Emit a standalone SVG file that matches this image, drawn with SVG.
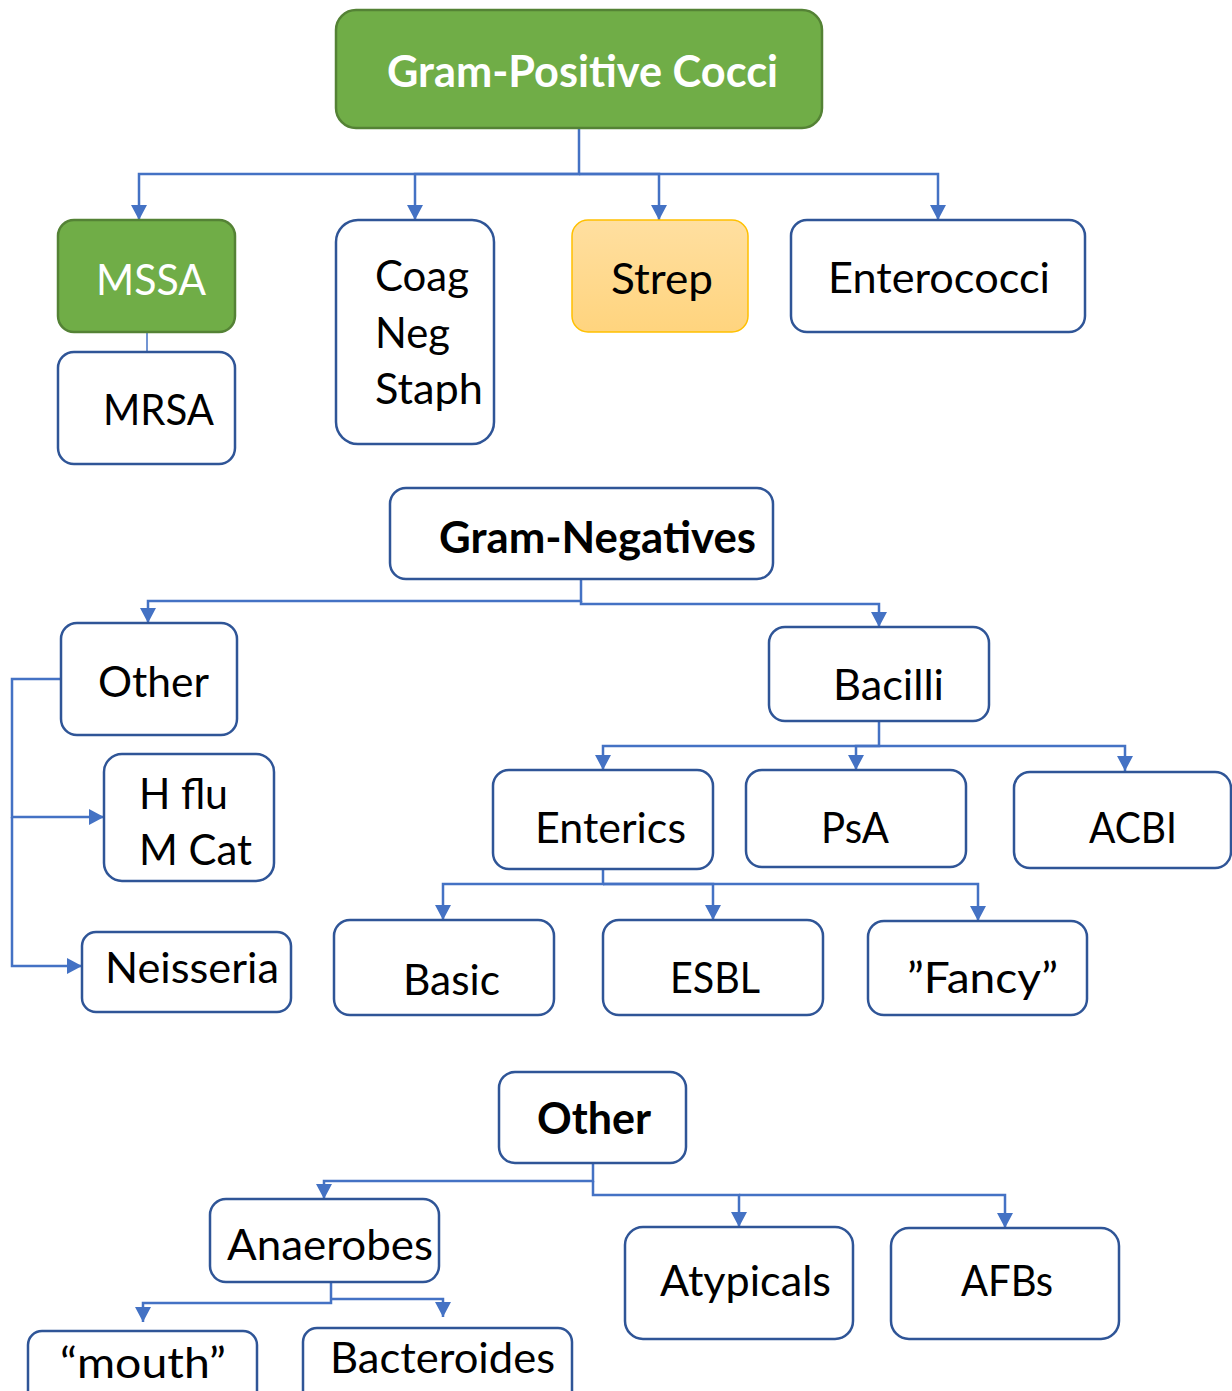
<svg xmlns="http://www.w3.org/2000/svg" width="1232" height="1391" viewBox="0 0 1232 1391">
  <defs>
    <linearGradient id="strepFill" x1="0" y1="0" x2="0" y2="1">
      <stop offset="0" stop-color="#FFDFA0"/>
      <stop offset="1" stop-color="#FFD47E"/>
    </linearGradient>
    <marker id="arrow" viewBox="0 0 15 16" refX="15" refY="8" markerWidth="15" markerHeight="16" markerUnits="userSpaceOnUse" orient="auto">
      <path d="M0,0 L15,8 L0,16 z" fill="#4472C4"/>
    </marker>
    <style>
      .box { fill: #FFFFFF; stroke: #2F5597; stroke-width: 2.5; }
      .green { fill: #70AD47; stroke: #548235; stroke-width: 2.5; }
      .strep { fill: url(#strepFill); stroke: #FFC000; stroke-width: 1.5; }
      .lbl { font-family: Lato, "Liberation Sans", sans-serif; font-size: 43px; fill: #000000; }
      .bold { font-weight: bold; }
      .white { fill: #FFFFFF; }
      .link { fill: none; stroke: #4472C4; stroke-width: 2.5; }
      .link-arrow { marker-end: url(#arrow); }
    </style>
  </defs>

  <!-- connectors -->
  <g id="connectors">
    <!-- Gram-positive cocci branches -->
    <path class="link link-arrow" d="M579,128 V174 H139 V220"/>
    <path class="link link-arrow" d="M579,174 H415 V220"/>
    <path class="link link-arrow" d="M579,174 H659 V220"/>
    <path class="link link-arrow" d="M579,174 H938 V220"/>
    <path class="link" style="stroke-width:1.5" d="M147,332 V352"/>
    <!-- Gram-negative branches -->
    <path class="link link-arrow" d="M581,579 V601 H148 V623"/>
    <path class="link link-arrow" d="M581,601 V604 H879 V627"/>
    <path class="link link-arrow" d="M61,679 H12 V817 H104"/>
    <path class="link link-arrow" d="M12,817 V966 H82"/>
    <path class="link link-arrow" d="M879,721 V746 H603 V770"/>
    <path class="link link-arrow" d="M879,746 H856 V770"/>
    <path class="link link-arrow" d="M879,746 H1125 V771"/>
    <path class="link link-arrow" d="M603,850 V884 H443 V920"/>
    <path class="link link-arrow" d="M603,884 H713 V920"/>
    <path class="link link-arrow" d="M603,884 H978 V921"/>
    <!-- Other organisms -->
    <path class="link link-arrow" d="M593,1163 V1181 H324 V1199"/>
    <path class="link link-arrow" d="M593,1181 V1195 H739 V1227"/>
    <path class="link link-arrow" d="M739,1195 H1005 V1228"/>
    <path class="link link-arrow" d="M331,1282 V1303 H143 V1322"/>
    <path class="link link-arrow" d="M331,1299 H443 V1317"/>
  </g>

  <!-- Gram-positive cocci -->
  <g id="gram-positive-cocci">
    <rect class="green" x="336" y="10" width="486" height="118" rx="20"/>
    <text class="lbl bold white" x="387" y="87" textLength="391" lengthAdjust="spacingAndGlyphs">Gram-Positive Cocci</text>
  </g>
  <g id="mssa">
    <rect class="green" x="58" y="220" width="177" height="112" rx="16"/>
    <text class="lbl white" x="96" y="295" textLength="110" lengthAdjust="spacingAndGlyphs">MSSA</text>
  </g>
  <g id="mrsa">
    <rect class="box" x="58" y="352" width="177" height="112" rx="16"/>
    <text class="lbl" x="103" y="425" textLength="111" lengthAdjust="spacingAndGlyphs">MRSA</text>
  </g>
  <g id="coag-neg-staph">
    <rect class="box" x="336" y="220" width="158" height="224" rx="22"/>
    <text class="lbl" x="375" y="291" textLength="94" lengthAdjust="spacingAndGlyphs">Coag</text>
    <text class="lbl" x="375" y="348" textLength="75" lengthAdjust="spacingAndGlyphs">Neg</text>
    <text class="lbl" x="375" y="404" textLength="108" lengthAdjust="spacingAndGlyphs">Staph</text>
  </g>
  <g id="strep">
    <rect class="strep" x="572" y="220" width="176" height="112" rx="16"/>
    <text class="lbl" x="611" y="294" textLength="102" lengthAdjust="spacingAndGlyphs">Strep</text>
  </g>
  <g id="enterococci">
    <rect class="box" x="791" y="220" width="294" height="112" rx="16"/>
    <text class="lbl" x="828" y="293" textLength="222" lengthAdjust="spacingAndGlyphs">Enterococci</text>
  </g>

  <!-- Gram-negatives -->
  <g id="gram-negatives">
    <rect class="box" x="390" y="488" width="383" height="91" rx="16"/>
    <text class="lbl bold" x="439" y="553" textLength="317" lengthAdjust="spacingAndGlyphs">Gram-Negatives</text>
  </g>
  <g id="gn-other">
    <rect class="box" x="61" y="623" width="176" height="112" rx="16"/>
    <text class="lbl" x="98" y="697" textLength="111" lengthAdjust="spacingAndGlyphs">Other</text>
  </g>
  <g id="hflu-mcat">
    <rect class="box" x="104" y="754" width="170" height="127" rx="18"/>
    <text class="lbl" x="139" y="809" textLength="89" lengthAdjust="spacingAndGlyphs">H flu</text>
    <text class="lbl" x="139" y="865" textLength="113" lengthAdjust="spacingAndGlyphs">M Cat</text>
  </g>
  <g id="neisseria">
    <rect class="box" x="82" y="932" width="209" height="80" rx="14"/>
    <text class="lbl" x="105" y="983" textLength="174" lengthAdjust="spacingAndGlyphs">Neisseria</text>
  </g>
  <g id="bacilli">
    <rect class="box" x="769" y="627" width="220" height="94" rx="16"/>
    <text class="lbl" x="833" y="700" textLength="111" lengthAdjust="spacingAndGlyphs">Bacilli</text>
  </g>
  <g id="enterics">
    <rect class="box" x="493" y="770" width="220" height="99" rx="16"/>
    <text class="lbl" x="535" y="843" textLength="151" lengthAdjust="spacingAndGlyphs">Enterics</text>
  </g>
  <g id="psa">
    <rect class="box" x="746" y="770" width="220" height="97" rx="16"/>
    <text class="lbl" x="821" y="843" textLength="68" lengthAdjust="spacingAndGlyphs">PsA</text>
  </g>
  <g id="acbi">
    <rect class="box" x="1014" y="772" width="217" height="96" rx="16"/>
    <text class="lbl" x="1089" y="843" textLength="88" lengthAdjust="spacingAndGlyphs">ACBI</text>
  </g>
  <g id="basic">
    <rect class="box" x="334" y="920" width="220" height="95" rx="16"/>
    <text class="lbl" x="403" y="995" textLength="97" lengthAdjust="spacingAndGlyphs">Basic</text>
  </g>
  <g id="esbl">
    <rect class="box" x="603" y="920" width="220" height="95" rx="16"/>
    <text class="lbl" x="670" y="993" textLength="90" lengthAdjust="spacingAndGlyphs">ESBL</text>
  </g>
  <g id="fancy">
    <rect class="box" x="868" y="921" width="219" height="94" rx="16"/>
    <text class="lbl" x="907" y="993" textLength="151" lengthAdjust="spacingAndGlyphs">”Fancy”</text>
  </g>

  <!-- Other organisms -->
  <g id="other">
    <rect class="box" x="499" y="1072" width="187" height="91" rx="16"/>
    <text class="lbl bold" x="537" y="1134" textLength="114" lengthAdjust="spacingAndGlyphs">Other</text>
  </g>
  <g id="anaerobes">
    <rect class="box" x="210" y="1199" width="229" height="83" rx="16"/>
    <text class="lbl" x="227" y="1260" textLength="206" lengthAdjust="spacingAndGlyphs">Anaerobes</text>
  </g>
  <g id="atypicals">
    <rect class="box" x="625" y="1227" width="228" height="112" rx="18"/>
    <text class="lbl" x="660" y="1296" textLength="171" lengthAdjust="spacingAndGlyphs">Atypicals</text>
  </g>
  <g id="afbs">
    <rect class="box" x="891" y="1228" width="228" height="111" rx="18"/>
    <text class="lbl" x="961" y="1296" textLength="92" lengthAdjust="spacingAndGlyphs">AFBs</text>
  </g>
  <g id="mouth">
    <rect class="box" x="28" y="1331" width="229" height="80" rx="14"/>
    <text class="lbl" x="60" y="1378" textLength="166" lengthAdjust="spacingAndGlyphs">“mouth”</text>
  </g>
  <g id="bacteroides">
    <rect class="box" x="303" y="1328" width="269" height="83" rx="14"/>
    <text class="lbl" x="330" y="1373" textLength="225" lengthAdjust="spacingAndGlyphs">Bacteroides</text>
  </g>
</svg>
